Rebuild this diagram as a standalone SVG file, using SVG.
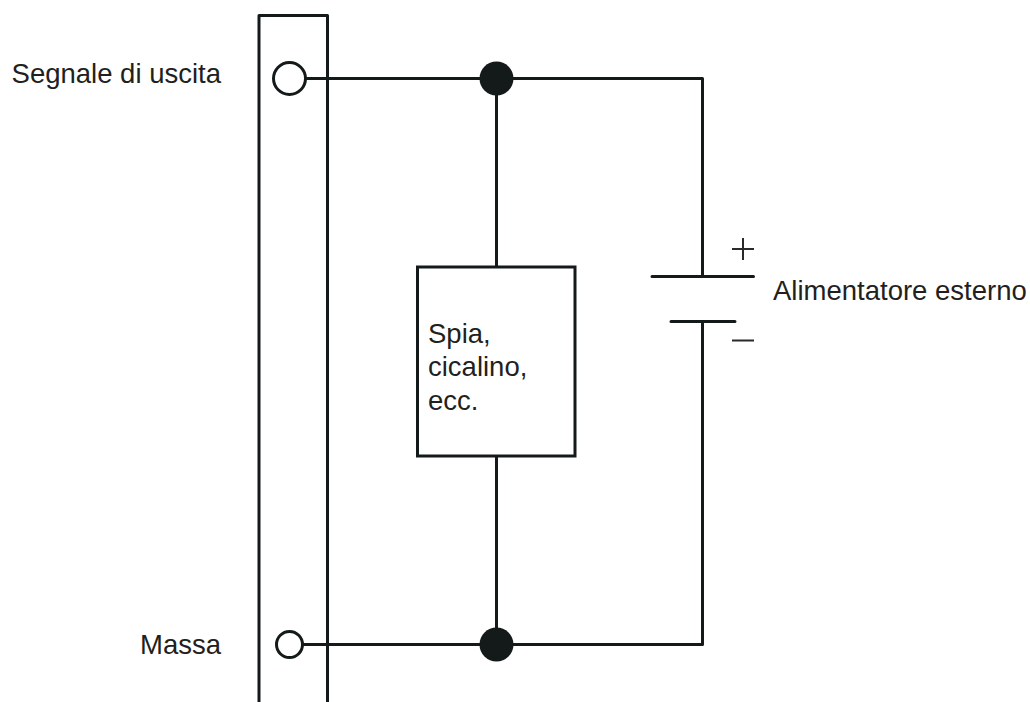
<svg xmlns="http://www.w3.org/2000/svg" width="1030" height="702" viewBox="0 0 1030 702">
<style>
.w{fill:none;stroke:#141a1a;stroke-width:3;stroke-linecap:round;stroke-linejoin:round}
.s{fill:none;stroke:#2a2a2c;stroke-width:2;stroke-linecap:butt}
.o{fill:#fff;stroke:#141a1a;stroke-width:3}
.d{fill:#141a1a}
.b{fill:#fff;stroke:#141a1a;stroke-width:3}
text{font-family:"Liberation Sans",Arial,sans-serif;font-size:27.5px;fill:#231f20}
</style>
<rect width="1030" height="702" fill="#fff"/>
<g id="connectors">
<path class="w" d="M306 78.500H702.500V276.500"/>
<path class="w" d="M303 644.500H702.500V322"/>
<path class="w" d="M496.500 78.500V267M496.500 456V644.500"/>
</g>
<g id="terminal-strip"><path class="w" style="stroke-linecap:butt" d="M259 702V15.500H327.500V702"/></g>
<g id="terminal-top"><circle class="o" cx="289.500" cy="78.500" r="16"/></g>
<g id="terminal-bottom"><circle class="o" cx="289.500" cy="644.500" r="13"/></g>
<g id="junction-top"><circle class="d" cx="496.500" cy="78.500" r="17"/></g>
<g id="junction-bottom"><circle class="d" cx="496.500" cy="644.500" r="17"/></g>
<g id="load"><rect class="b" x="417.500" y="267" width="157.500" height="189"/>
<text x="428" y="342.500">Spia,</text><text x="428" y="376">cicalino,</text><text x="428" y="409.500">ecc.</text></g>
<g id="supply">
<path class="w" d="M652 276.500H753.500M671 321.500H735"/>
<path class="s" d="M732 249H754M743 238V260M732 340.500H754"/>
<text x="773" y="300">Alimentatore esterno</text>
</g>
<g id="label-signal"><text x="221" y="83" text-anchor="end">Segnale di uscita</text></g>
<g id="label-ground"><text x="221" y="654" text-anchor="end">Massa</text></g>
</svg>
